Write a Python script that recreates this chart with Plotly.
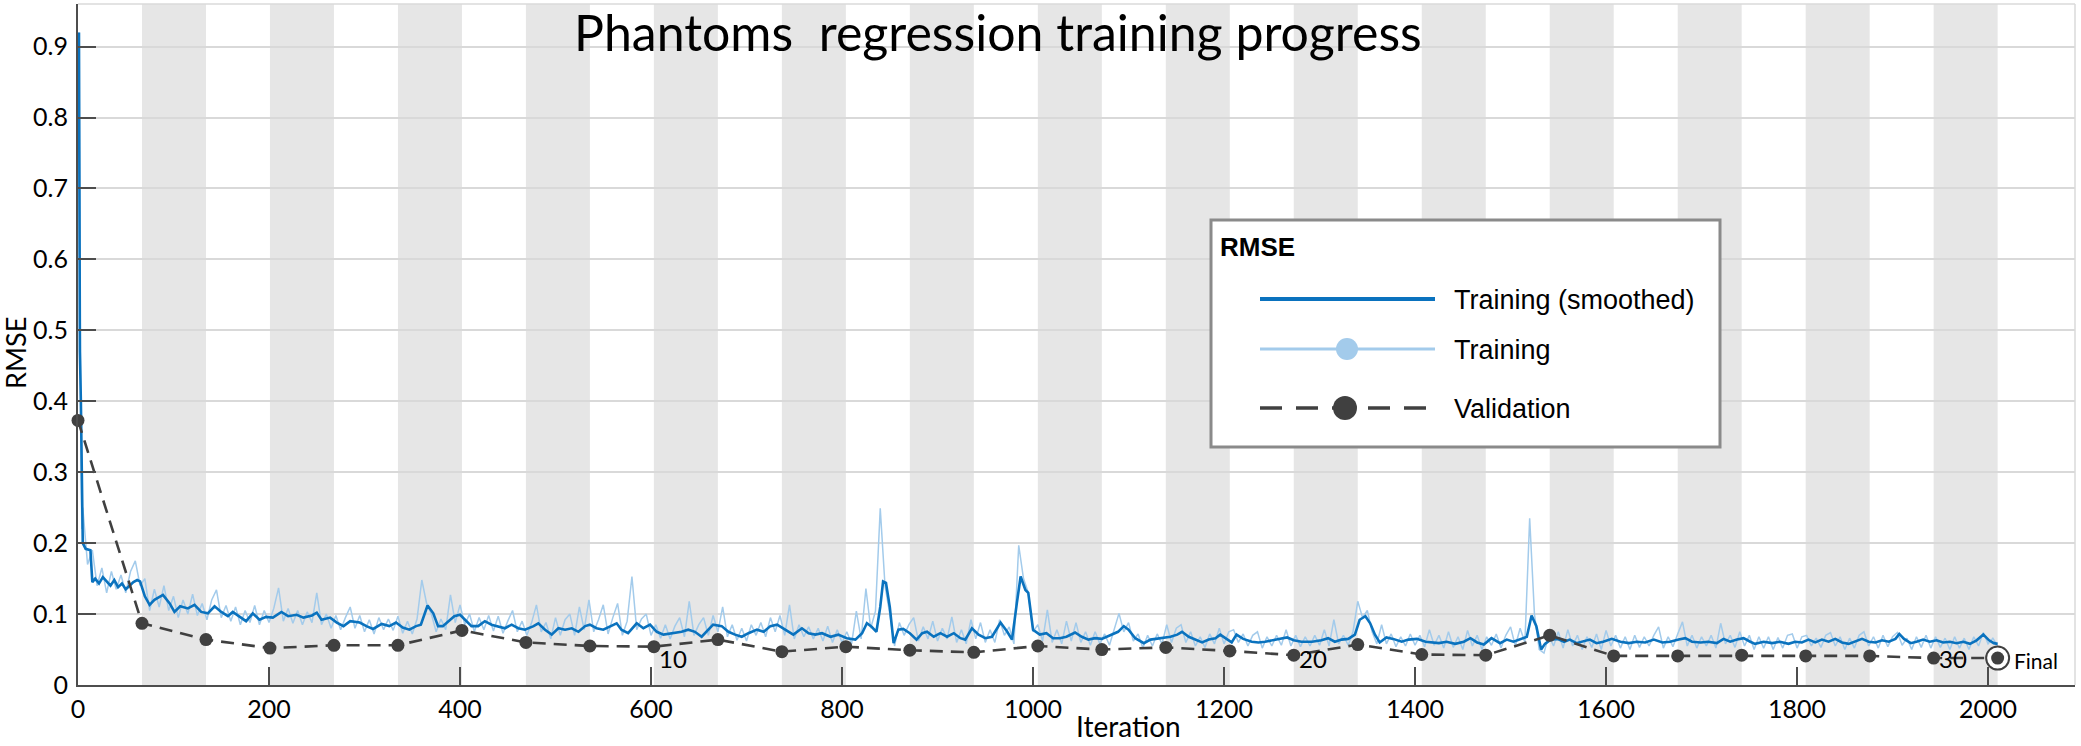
import plotly.graph_objects as go

# ---------------- data ----------------
epoch_len = 67
n_epochs = 30

val_rmse = [0.373, 0.087, 0.064, 0.052, 0.056, 0.056, 0.077, 0.060, 0.055, 0.054,
            0.064, 0.047, 0.054, 0.049, 0.046, 0.055, 0.050, 0.053, 0.048, 0.042,
            0.057, 0.043, 0.042, 0.070, 0.041, 0.041, 0.042, 0.041, 0.041, 0.038, 0.038]
val_iter = [k * epoch_len for k in range(len(val_rmse))]
final_iter = 2010
final_rmse = 0.038

smooth_iter = [1, 2, 3, 4, 5, 8, 13, 15, 18, 22,
               26, 30, 34, 38, 42, 46, 50, 54, 58, 62,
               65, 70, 75, 80, 89, 96, 101, 107, 115, 122,
               129, 136, 143, 150, 157, 162, 169, 176, 183, 190,
               197, 204, 213, 220, 229, 236, 245, 250, 255, 264,
               271, 278, 285, 295, 302, 309, 318, 326, 333, 340,
               347, 354, 359, 366, 372, 377, 382, 389, 394, 400,
               407, 412, 419, 426, 433, 440, 447, 454, 461, 468,
               477, 482, 489, 496, 503, 510, 517, 524, 531, 536,
               543, 550, 557, 564, 569, 576, 585, 592, 599, 606,
               613, 622, 632, 639, 646, 653, 660, 665, 674, 681,
               688, 695, 702, 711, 718, 725, 732, 740, 749, 758,
               765, 772, 779, 788, 796, 805, 814, 821, 826, 831,
               836, 840, 843, 846, 850, 854, 859, 864, 871, 878,
               884, 889, 896, 903, 910, 917, 924, 929, 936, 943,
               950, 957, 966, 973, 978, 983, 987, 992, 995, 1000,
               1007, 1014, 1021, 1028, 1035, 1044, 1051, 1058, 1065, 1072,
               1082, 1089, 1095, 1100, 1107, 1116, 1123, 1130, 1137, 1144,
               1151, 1156, 1163, 1170, 1177, 1184, 1191, 1196, 1203, 1208,
               1213, 1220, 1229, 1236, 1243, 1252, 1259, 1266, 1273, 1281,
               1292, 1302, 1309, 1316, 1323, 1330, 1337, 1342, 1348, 1353,
               1358, 1363, 1370, 1377, 1386, 1393, 1402, 1411, 1425, 1433,
               1442, 1451, 1458, 1465, 1472, 1480, 1489, 1496, 1503, 1510,
               1517, 1522, 1527, 1532, 1536, 1542, 1549, 1556, 1562, 1569,
               1576, 1583, 1590, 1597, 1606, 1615, 1624, 1632, 1641, 1650,
               1659, 1667, 1676, 1683, 1690, 1699, 1707, 1716, 1723, 1730,
               1737, 1744, 1751, 1756, 1765, 1774, 1782, 1791, 1798, 1805,
               1812, 1819, 1826, 1833, 1840, 1847, 1854, 1861, 1868, 1875,
               1882, 1889, 1896, 1903, 1907, 1912, 1919, 1925, 1932, 1939,
               1946, 1953, 1960, 1967, 1974, 1981, 1988, 1995, 2001, 2006,
               2010]
smooth_rmse = [0.92, 0.47, 0.40, 0.28, 0.20, 0.192, 0.19, 0.145, 0.15, 0.143,
               0.152, 0.146, 0.14, 0.148, 0.138, 0.143, 0.135, 0.14, 0.145, 0.148,
               0.146, 0.125, 0.113, 0.12, 0.127, 0.115, 0.103, 0.111, 0.108, 0.113,
               0.103, 0.101, 0.111, 0.103, 0.097, 0.103, 0.097, 0.09, 0.101, 0.092,
               0.096, 0.095, 0.103, 0.097, 0.099, 0.095, 0.098, 0.102, 0.092, 0.095,
               0.088, 0.083, 0.09, 0.088, 0.083, 0.079, 0.086, 0.083, 0.088, 0.081,
               0.078, 0.083, 0.085, 0.112, 0.101, 0.083, 0.083, 0.092, 0.097, 0.099,
               0.09, 0.083, 0.083, 0.09, 0.085, 0.083, 0.08, 0.085, 0.08, 0.078,
               0.083, 0.087, 0.078, 0.071, 0.08, 0.078, 0.08, 0.075, 0.083, 0.085,
               0.08, 0.078, 0.083, 0.087, 0.078, 0.073, 0.087, 0.08, 0.085, 0.075,
               0.071, 0.073, 0.075, 0.078, 0.075, 0.068, 0.078, 0.085, 0.083, 0.075,
               0.071, 0.068, 0.073, 0.078, 0.075, 0.083, 0.085, 0.078, 0.071, 0.08,
               0.073, 0.071, 0.073, 0.068, 0.071, 0.066, 0.064, 0.073, 0.087, 0.082,
               0.075, 0.11, 0.146, 0.144, 0.11, 0.059, 0.078, 0.079, 0.073, 0.064,
               0.073, 0.075, 0.068, 0.073, 0.068, 0.073, 0.066, 0.064, 0.08, 0.071,
               0.066, 0.068, 0.088, 0.075, 0.064, 0.115, 0.153, 0.134, 0.13, 0.078,
               0.071, 0.073, 0.066, 0.066, 0.068, 0.074, 0.068, 0.064, 0.066, 0.065,
               0.071, 0.075, 0.083, 0.078, 0.066, 0.059, 0.064, 0.065, 0.066, 0.068,
               0.071, 0.075, 0.068, 0.064, 0.06, 0.064, 0.066, 0.071, 0.065, 0.06,
               0.071, 0.065, 0.061, 0.06, 0.061, 0.063, 0.065, 0.067, 0.063, 0.061,
               0.061, 0.063, 0.066, 0.061, 0.064, 0.065, 0.071, 0.092, 0.097, 0.087,
               0.071, 0.06, 0.067, 0.065, 0.061, 0.064, 0.065, 0.061, 0.059, 0.061,
               0.058, 0.061, 0.066, 0.06, 0.057, 0.066, 0.059, 0.064, 0.061, 0.064,
               0.068, 0.098, 0.083, 0.05, 0.058, 0.064, 0.065, 0.061, 0.064, 0.059,
               0.061, 0.064, 0.059, 0.061, 0.065, 0.061, 0.059, 0.061, 0.06, 0.064,
               0.06, 0.061, 0.064, 0.066, 0.061, 0.06, 0.061, 0.059, 0.065, 0.061,
               0.064, 0.066, 0.061, 0.058, 0.061, 0.059, 0.061, 0.058, 0.061, 0.06,
               0.064, 0.06, 0.064, 0.061, 0.065, 0.06, 0.058, 0.061, 0.065, 0.061,
               0.06, 0.063, 0.061, 0.065, 0.072, 0.065, 0.059, 0.061, 0.064, 0.061,
               0.063, 0.06, 0.061, 0.059, 0.061, 0.058, 0.063, 0.071, 0.063, 0.059,
               0.058]

# raw (unsmoothed) training RMSE: iterations 1-4, then every 5th iteration from 5
raw_first = [0.92, 0.47, 0.33, 0.22]
raw_every5 = [
    0.25, 0.17, 0.19, 0.14, 0.165, 0.13, 0.16, 0.135, 0.155, 0.13, 0.16, 0.175, 0.14,  # 5-65
    0.15, 0.105, 0.135, 0.11, 0.14, 0.105, 0.125, 0.095, 0.12, 0.1,        # 70-115
    0.128, 0.098, 0.115, 0.092, 0.12, 0.134, 0.095, 0.112, 0.09, 0.11,     # 120-165
    0.085, 0.105, 0.088, 0.112, 0.085, 0.105, 0.088, 0.108, 0.137, 0.09,   # 170-215
    0.108, 0.087, 0.105, 0.085, 0.103, 0.088, 0.13, 0.085, 0.1, 0.08,      # 220-265
    0.098, 0.078, 0.095, 0.11, 0.08, 0.098, 0.075, 0.092, 0.072, 0.095,    # 270-315
    0.078, 0.093, 0.077, 0.097, 0.073, 0.09, 0.072, 0.093, 0.148, 0.115,   # 320-365
    0.1, 0.075, 0.093, 0.078, 0.127, 0.088, 0.113, 0.085, 0.1, 0.075,      # 370-415
    0.095, 0.078, 0.098, 0.076, 0.097, 0.073, 0.09, 0.105, 0.075, 0.09,    # 420-465
    0.07, 0.088, 0.113, 0.075, 0.088, 0.065, 0.095, 0.07, 0.092, 0.1,      # 470-515
    0.07, 0.11, 0.078, 0.12, 0.075, 0.092, 0.113, 0.072, 0.095, 0.115,     # 520-565
    0.07, 0.09, 0.153, 0.078, 0.093, 0.1, 0.07, 0.085, 0.066, 0.085,       # 570-615
    0.065, 0.083, 0.095, 0.068, 0.118, 0.07, 0.085, 0.095, 0.07, 0.098,    # 620-665
    0.075, 0.11, 0.068, 0.085, 0.063, 0.08, 0.062, 0.085, 0.07, 0.088,     # 670-715
    0.068, 0.095, 0.075, 0.098, 0.07, 0.113, 0.065, 0.085, 0.068, 0.082,   # 720-765
    0.065, 0.08, 0.062, 0.083, 0.06, 0.078, 0.06, 0.075, 0.058, 0.104,     # 770-815
    0.065, 0.136, 0.08, 0.104, 0.249, 0.14, 0.1, 0.055, 0.088, 0.07,       # 820-865
    0.085, 0.095, 0.062, 0.082, 0.065, 0.09, 0.062, 0.08, 0.065, 0.096,    # 870-915
    0.06, 0.078, 0.058, 0.092, 0.065, 0.088, 0.06, 0.078, 0.06, 0.092,     # 920-965
    0.07, 0.082, 0.058, 0.197, 0.15, 0.13, 0.075, 0.085, 0.062, 0.106,     # 970-1015
    0.06, 0.078, 0.058, 0.09, 0.062, 0.088, 0.06, 0.075, 0.056, 0.075,     # 1020-1065
    0.058, 0.072, 0.056, 0.08, 0.101, 0.075, 0.088, 0.062, 0.072, 0.052,   # 1070-1115
    0.07, 0.055, 0.072, 0.058, 0.085, 0.06, 0.08, 0.085, 0.06, 0.075,      # 1120-1165
    0.055, 0.068, 0.053, 0.072, 0.058, 0.08, 0.058, 0.075, 0.078, 0.06,    # 1170-1215
    0.072, 0.055, 0.07, 0.075, 0.052, 0.068, 0.055, 0.07, 0.056, 0.078,    # 1220-1265
    0.055, 0.07, 0.054, 0.068, 0.055, 0.07, 0.056, 0.078, 0.055, 0.092,    # 1270-1315
    0.058, 0.07, 0.056, 0.075, 0.118, 0.095, 0.105, 0.075, 0.058, 0.085,   # 1320-1365
    0.058, 0.072, 0.054, 0.068, 0.055, 0.072, 0.056, 0.07, 0.054, 0.078,   # 1370-1415
    0.056, 0.07, 0.052, 0.075, 0.053, 0.068, 0.05, 0.077, 0.055, 0.07,     # 1420-1465
    0.05, 0.068, 0.056, 0.072, 0.052, 0.07, 0.082, 0.055, 0.08, 0.06,      # 1470-1515
    0.235, 0.1, 0.05, 0.045, 0.07, 0.055, 0.075, 0.052, 0.078, 0.055,      # 1520-1565
    0.07, 0.05, 0.068, 0.053, 0.072, 0.05, 0.077, 0.055, 0.07, 0.052,      # 1570-1615
    0.068, 0.05, 0.07, 0.053, 0.068, 0.055, 0.07, 0.082, 0.052, 0.068,     # 1620-1665
    0.054, 0.072, 0.089, 0.055, 0.07, 0.052, 0.068, 0.055, 0.07, 0.052,    # 1670-1715
    0.087, 0.058, 0.07, 0.053, 0.075, 0.055, 0.07, 0.05, 0.068, 0.052,     # 1720-1765
    0.068, 0.05, 0.067, 0.052, 0.07, 0.072, 0.052, 0.068, 0.07, 0.055,     # 1770-1815
    0.066, 0.053, 0.07, 0.074, 0.055, 0.068, 0.05, 0.066, 0.052, 0.07,     # 1820-1865
    0.075, 0.055, 0.068, 0.052, 0.07, 0.054, 0.068, 0.074, 0.056, 0.066,   # 1870-1915
    0.05, 0.068, 0.053, 0.07, 0.052, 0.068, 0.053, 0.066, 0.05, 0.068,     # 1920-1965
    0.052, 0.066, 0.05, 0.068, 0.055, 0.074, 0.058, 0.066, 0.055,          # 1970-2010
]
raw_rmse = raw_first + raw_every5
raw_iter = [1, 2, 3, 4] + [5 * (i + 1) for i in range(len(raw_every5))]

x_ticks = [0, 200, 400, 600, 800, 1000, 1200, 1400, 1600, 1800, 2000]
y_ticks = [0, 0.1, 0.2, 0.3, 0.4, 0.5, 0.6, 0.7, 0.8, 0.9]
y_ticktext = ["0", "0.1", "0.2", "0.3", "0.4", "0.5", "0.6", "0.7", "0.8", "0.9"]
epoch_labels = [10, 20, 30]

title_text = "Phantoms\u00a0 regression training progress"
legend_title = "RMSE"
legend_names = ["Training (smoothed)", "Training", "Validation"]

# ---------------- styling / geometry ----------------
FIG_W, FIG_H = 2081, 746
L, R, T, B = 78, 2075, 4, 685
W, H = R - L, B - T


def px(xp):
    return (xp - L) / W


def py(yp):
    return (B - yp) / H


C_SMOOTH = "#0a72be"
C_RAW = "#a3cbeb"
C_VAL = "#404040"
C_AX = "#4d4d4d"
FONT_MAIN = "Lato"
FONT_LEG = "Liberation Sans, Arial"

fig = go.Figure()

fig.add_trace(go.Scatter(x=raw_iter, y=raw_rmse, mode="lines",
                         line=dict(color=C_RAW, width=1.5), hoverinfo="skip"))
fig.add_trace(go.Scatter(x=smooth_iter, y=smooth_rmse, mode="lines",
                         line=dict(color=C_SMOOTH, width=2.6), hoverinfo="skip"))
fig.add_trace(go.Scatter(x=val_iter, y=val_rmse, mode="lines+markers",
                         line=dict(color=C_VAL, width=2.6, dash="13px,8px"),
                         marker=dict(size=13, color=C_VAL), cliponaxis=False))
fig.add_trace(go.Scatter(x=[final_iter], y=[final_rmse], mode="markers",
                         marker=dict(size=23, color="white", line=dict(color=C_VAL, width=2)),
                         cliponaxis=False))
fig.add_trace(go.Scatter(x=[final_iter], y=[final_rmse], mode="markers",
                         marker=dict(size=13, color=C_VAL), cliponaxis=False))

shapes = []
# alternating epoch bands (even epochs shaded)
for e in range(2, n_epochs + 1, 2):
    shapes.append(dict(type="rect", xref="x", yref="paper",
                       x0=(e - 1) * epoch_len, x1=e * epoch_len, y0=0, y1=1,
                       fillcolor="#e6e6e6", line=dict(width=0), layer="below"))
# light top / right border
shapes.append(dict(type="line", xref="paper", yref="paper", x0=0, x1=1, y0=1, y1=1,
                   line=dict(color="#dadada", width=1.5)))
shapes.append(dict(type="line", xref="paper", yref="paper", x0=1, x1=1, y0=0, y1=1,
                   line=dict(color="#dadada", width=1.5)))

# legend box
shapes.append(dict(type="rect", xref="paper", yref="paper",
                   x0=px(1211), x1=px(1720), y0=py(447), y1=py(220),
                   fillcolor="white", line=dict(color="#8a8a8a", width=3), layer="above"))
leg_rows = [299, 349, 408]
shapes.append(dict(type="line", xref="paper", yref="paper", x0=px(1260), x1=px(1435),
                   y0=py(leg_rows[0]), y1=py(leg_rows[0]),
                   line=dict(color=C_SMOOTH, width=4), layer="above"))
shapes.append(dict(type="line", xref="paper", yref="paper", x0=px(1260), x1=px(1435),
                   y0=py(leg_rows[1]), y1=py(leg_rows[1]),
                   line=dict(color=C_RAW, width=3), layer="above"))
shapes.append(dict(type="circle", xref="paper", yref="paper",
                   xsizemode="pixel", ysizemode="pixel",
                   xanchor=px(1347), yanchor=py(leg_rows[1]),
                   x0=-11, x1=11, y0=-11, y1=11,
                   fillcolor=C_RAW, line=dict(width=0), layer="above"))
shapes.append(dict(type="line", xref="paper", yref="paper", x0=px(1260), x1=px(1435),
                   y0=py(leg_rows[2]), y1=py(leg_rows[2]),
                   line=dict(color=C_VAL, width=3.5, dash="22px,14px"), layer="above"))
shapes.append(dict(type="circle", xref="paper", yref="paper",
                   xsizemode="pixel", ysizemode="pixel",
                   xanchor=px(1345), yanchor=py(leg_rows[2]),
                   x0=-12, x1=12, y0=-12, y1=12,
                   fillcolor=C_VAL, line=dict(width=0), layer="above"))

annotations = []
annotations.append(dict(text=title_text, xref="paper", yref="paper",
                        x=px(998), y=py(0), xanchor="center", yanchor="top",
                        showarrow=False, font=dict(family=FONT_MAIN, size=50, color="black")))
annotations.append(dict(text="RMSE", xref="paper", yref="paper",
                        x=px(15), y=py(353), xanchor="center", yanchor="middle",
                        textangle=-90, showarrow=False,
                        font=dict(family=FONT_MAIN, size=27, color="black")))
annotations.append(dict(text="Iteration", xref="paper", yref="paper",
                        x=px(1128), y=py(745), xanchor="center", yanchor="bottom",
                        showarrow=False, font=dict(family=FONT_MAIN, size=28, color="black")))
for ep in epoch_labels:
    annotations.append(dict(text=str(ep), xref="x", yref="y",
                            x=(ep - 1) * epoch_len + 20, y=0, yshift=27,
                            xanchor="center", yanchor="middle", showarrow=False,
                            font=dict(family=FONT_MAIN, size=24, color="black")))
annotations.append(dict(text="Final", xref="x", yref="y", x=final_iter + 15, y=0, yshift=25,
                        xanchor="left", yanchor="middle", showarrow=False,
                        font=dict(family=FONT_MAIN, size=21, color="black")))
annotations.append(dict(text="<b>" + legend_title + "</b>", xref="paper", yref="paper",
                        x=px(1218), y=py(247), xanchor="left", yanchor="middle",
                        showarrow=False, font=dict(family=FONT_LEG, size=26, color="black")))
for name, row in zip(legend_names, leg_rows):
    annotations.append(dict(text=name, xref="paper", yref="paper",
                            x=px(1452), y=py(row + 1), xanchor="left", yanchor="middle",
                            showarrow=False, font=dict(family=FONT_LEG, size=27, color="black")))

fig.update_layout(
    width=FIG_W, height=FIG_H, autosize=False,
    margin=dict(l=L, r=FIG_W - R, t=T, b=FIG_H - B, pad=0),
    paper_bgcolor="white", plot_bgcolor="white",
    showlegend=False,
    font=dict(family=FONT_MAIN, color="black"),
    shapes=shapes, annotations=annotations,
    xaxis=dict(range=[0, 2091], showgrid=False, zeroline=False,
               showline=True, linecolor=C_AX, linewidth=2,
               ticks="inside", ticklen=18, tickwidth=2, tickcolor=C_AX,
               tickvals=x_ticks, tickfont=dict(family=FONT_MAIN, size=25, color="black"),
               ticklabelstandoff=1),
    yaxis=dict(range=[0, 0.96], showgrid=True, gridcolor="#d9d9d9", gridwidth=1.5,
               zeroline=False, showline=True, linecolor=C_AX, linewidth=2,
               ticks="inside", ticklen=18, tickwidth=2, tickcolor=C_AX,
               tickvals=y_ticks, ticktext=y_ticktext,
               tickfont=dict(family=FONT_MAIN, size=25, color="black"),
               ticklabelstandoff=3),
)

fig.write_html("out.html",
               config={"displayModeBar": False},
               post_script="document.body.style.margin='0';document.body.style.overflow='hidden';")
